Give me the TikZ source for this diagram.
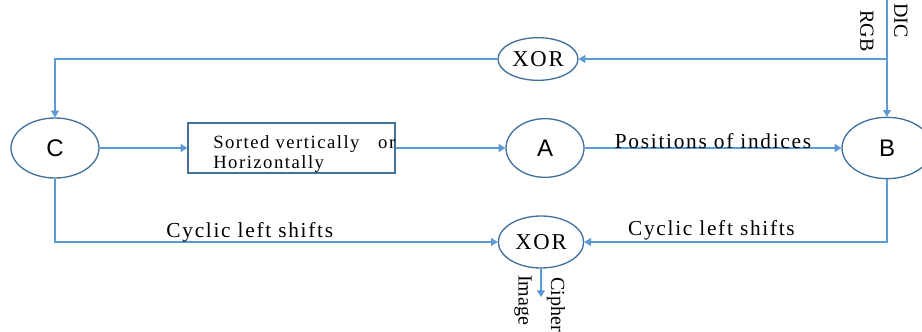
\documentclass[tikz,border=0pt]{standalone}
\usepackage{fontspec}
\setmainfont{Liberation Serif}[LetterSpace=8]
\newfontfamily\plainserif{Liberation Serif}
\newfontfamily\letterfont{Liberation Sans}
\usepackage{tikz}
\tikzset{x=.75pt,y=-.75pt}
\usetikzlibrary{arrows.meta, shapes.geometric}
\definecolor{lineblue}{HTML}{5B9BD5}
\definecolor{edgeblue}{HTML}{41719C}

\begin{document}
\begin{tikzpicture}[state/.style={ellipse, draw=edgeblue, line width=1pt, inner sep=0pt,
      font=\letterfont\fontsize{18}{18}\selectfont},
    xorgate/.style={state, font=\fontsize{17}{17}\selectfont},
    conn/.style={draw=lineblue, line width=.8pt, -{Triangle[length=5pt,width=6pt]}},
    lbl/.style={font=\fontsize{16}{18}\selectfont, inner sep=0pt, anchor=base},
    vlbl/.style={font=\plainserif\fontsize{15}{15}\selectfont, rotate=-90, anchor=west, inner sep=0pt}]
    \useasboundingbox (0,0) rectangle (922,332);
    % states
    \node[state, minimum width=66pt, minimum height=45pt] (C) at (55,148) {C};
    \node[state, minimum width=58.5pt, minimum height=44pt] (A) at (545,148) {A};
    \node[state, minimum width=67.5pt, minimum height=46pt] (B) at (887,148) {B};
    \node[xorgate, minimum width=60pt, minimum height=32pt] (xortop) at (538,59) {XOR};
    \node[xorgate, minimum width=64pt, minimum height=39pt] (xorbot) at (541,242) {XOR};
    % sorting box
    \node[draw=edgeblue, line width=1pt, minimum width=155.25pt, minimum height=37.5pt]
      (sortbox) at (291.5,148) {};
    \node[anchor=base west, align=left, inner sep=0pt, font=\fontsize{14}{14.5}\selectfont]
      (sorttext) at (213,168) {Sorted vertically\quad or\\Horizontally};
    % in and out
    \coordinate (src) at (B.north |- 0,0);
    \coordinate (out) at (541,297);
    \node[vlbl] (dic) at (901,3) {DIC};
    \node[vlbl] (rgb) at (867,10) {RGB};
    \node[vlbl] (cipher) at (556,277) {Cipher};
    \node[vlbl] (image) at (523,275) {Image};
    % connectors
    \draw[conn] (src) -- (B.north);
    \draw[conn] (src |- xortop.east) -- (xortop.east);
    \draw[conn] (xortop.west) -| (C.north);
    \draw[conn] (C.east) -- (sortbox.west);
    \draw[conn] (sortbox.east) -- (A.west);
    \draw[conn] (A.east) -- node[lbl] (poslbl) {Positions of indices} (B.west);
    \draw[conn] (C.south) |- node[lbl, pos=.72, yshift=3.75pt] (leftlbl) {Cyclic left shifts} (xorbot.west);
    \draw[conn] (B.south) |- node[lbl, pos=.79, yshift=5.25pt] (rightlbl) {Cyclic left shifts} (xorbot.east);
    \draw[conn] (xorbot.south) -- (out);
\end{tikzpicture}
\end{document}
